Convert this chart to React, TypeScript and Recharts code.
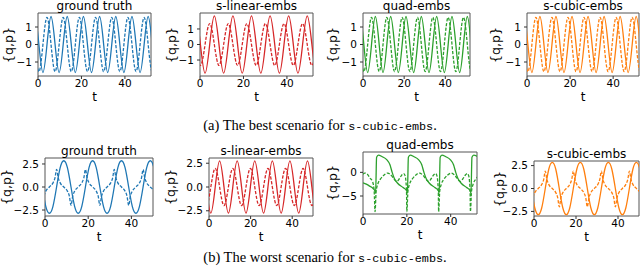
import React from 'react';
import { LineChart, Line, XAxis, YAxis, ReferenceArea } from 'recharts';

type P = [number, number];

const BLUE = '#1f77b4';
const RED = '#d62728';
const GREEN = '#2ca02c';
const ORANGE = '#ff7f0e';

const tTicks = [0, 20, 40];
const unitTicks = [-1, 0, 1];
const halfTicks = [-2.5, 0, 2.5];
const quadWorstTicks = [-5, 0];

const titles = ['ground truth', 's-linear-embs', 'quad-embs', 's-cubic-embs'];

// ---- (a) best scenario ----
const bestTruthQ: P[] = [[-3.31,0],[-1.45,1.6],[0.41,0],[2.27,-1.6],[4.14,0],[6.0,1.6],[7.86,0],[9.73,-1.6],[11.59,0],[13.45,1.6],[15.31,0],[17.18,-1.6],[19.04,0],[20.9,1.6],[22.76,0],[24.63,-1.6],[26.49,0],[28.35,1.6],[30.21,0],[32.08,-1.6],[33.94,0],[35.8,1.6],[37.66,0],[39.53,-1.6],[41.39,0],[43.25,1.6],[45.11,0],[46.98,-1.6],[48.84,0],[50.7,1.6],[52.56,0]];
const bestTruthP: P[] = [[-1.45,0],[0.41,-1.55],[2.27,0],[4.14,1.55],[6.0,0],[7.86,-1.55],[9.73,0],[11.59,1.55],[13.45,0],[15.31,-1.55],[17.18,0],[19.04,1.55],[20.9,0],[22.76,-1.55],[24.63,0],[26.49,1.55],[28.35,0],[30.21,-1.55],[32.08,0],[33.94,1.55],[35.8,0],[37.66,-1.55],[39.53,0],[41.39,1.55],[43.25,0],[45.11,-1.55],[46.98,0],[48.84,1.55],[50.7,0],[52.56,-1.55],[54.43,0]];
const bestLinearQ: P[] = [[-4.09,0],[-1.95,1.85],[0.19,0],[2.33,-1.85],[4.46,0],[6.6,1.85],[8.74,0],[10.88,-1.85],[13.01,0],[15.15,1.85],[17.29,0],[19.43,-1.85],[21.56,0],[23.7,1.85],[25.84,0],[27.98,-1.85],[30.11,0],[32.25,1.85],[34.39,0],[36.53,-1.85],[38.66,0],[40.8,1.85],[42.94,0],[45.08,-1.85],[47.21,0],[49.35,1.85],[51.49,0],[53.63,-1.85],[55.76,0]];
const bestLinearP: P[] = [[-1.95,0],[0.19,-1.35],[2.33,0],[4.46,1.35],[6.6,0],[8.74,-1.35],[10.88,0],[13.01,1.35],[15.15,0],[17.29,-1.35],[19.43,0],[21.56,1.35],[23.7,0],[25.84,-1.35],[27.98,0],[30.11,1.35],[32.25,0],[34.39,-1.35],[36.53,0],[38.66,1.35],[40.8,0],[42.94,-1.35],[45.08,0],[47.21,1.35],[49.35,0],[51.49,-1.35],[53.63,0]];

// ---- (b) worst scenario ----
const worstTruthQ: P[] = [[-1.31,0],[0.36,-2.1],[2.03,-2.85],[3.69,-2.1],[5.36,0],[7.03,2.1],[8.7,2.85],[10.37,2.1],[12.04,0],[13.71,-2.1],[15.38,-2.85],[17.04,-2.1],[18.71,0],[20.38,2.1],[22.05,2.85],[23.72,2.1],[25.39,0],[27.06,-2.1],[28.73,-2.85],[30.39,-2.1],[32.06,0],[33.73,2.1],[35.4,2.85],[37.07,2.1],[38.74,0],[40.41,-2.1],[42.08,-2.85],[43.74,-2.1],[45.41,0],[47.08,2.1],[48.75,2.85],[50.42,2.1],[52.09,0]];
const worstTruthP: P[] = [[-1.31,-2.0],[-0.52,-1.0],[0.38,-0.45],[2.03,0],[3.7,0.45],[4.63,1.0],[5.37,1.9],[6.13,1.0],[7.03,0.45],[8.71,0],[10.37,-0.45],[11.28,-1.0],[12.04,-2.0],[12.83,-1.0],[13.73,-0.45],[15.38,0],[17.05,0.45],[17.98,1.0],[18.72,1.9],[19.48,1.0],[20.38,0.45],[22.06,0],[23.72,-0.45],[24.63,-1.0],[25.39,-2.0],[26.18,-1.0],[27.08,-0.45],[28.73,0],[30.4,0.45],[31.33,1.0],[32.07,1.9],[32.83,1.0],[33.73,0.45],[35.41,0],[37.07,-0.45],[37.98,-1.0],[38.74,-2.0],[39.53,-1.0],[40.43,-0.45],[42.08,0],[43.75,0.45],[44.68,1.0],[45.42,1.9],[46.18,1.0],[47.08,0.45],[48.76,0],[50.42,-0.45],[51.33,-1.0]];
const worstLinearQ: P[] = [[-1.24,0],[0.88,-2.75],[2.99,0],[5.1,2.75],[7.21,0],[9.33,-2.75],[11.44,0],[13.55,2.75],[15.66,0],[17.78,-2.75],[19.89,0],[22.0,2.75],[24.11,0],[26.23,-2.75],[28.34,0],[30.45,2.75],[32.56,0],[34.68,-2.75],[36.79,0],[38.9,2.75],[41.01,0],[43.13,-2.75],[45.24,0],[47.35,2.75],[49.46,0],[51.58,-2.75],[53.69,0]];
const worstLinearP: P[] = [[-3.35,0],[-1.24,-1.95],[0.88,0],[2.99,1.95],[5.1,0],[7.21,-1.95],[9.33,0],[11.44,1.95],[13.55,0],[15.66,-1.95],[17.78,0],[19.89,1.95],[22.0,0],[24.11,-1.95],[26.23,0],[28.34,1.95],[30.45,0],[32.56,-1.95],[34.68,0],[36.79,1.95],[38.9,0],[41.01,-1.95],[43.13,0],[45.24,1.95],[47.35,0],[49.46,-1.95],[51.58,0]];
const worstQuadQ: P[] = [[0,-2.2],[1.5,-2.5],[3.0,-2.9],[4.6,-3.4],[5.4,-3.9],[5.75,-4.4],[6.2,3.2],[7.0,3.65],[8.8,3.3],[10.8,2.7],[12.3,1.6],[13.3,0.0],[14.3,-1.3],[15.8,-2.3],[18.3,-3.2],[19.9,-3.9],[20.25,-4.4],[20.7,3.2],[21.5,3.65],[23.3,3.3],[25.3,2.7],[26.8,1.6],[27.8,0.0],[28.8,-1.3],[30.3,-2.3],[32.8,-3.2],[34.4,-3.9],[34.75,-4.4],[35.2,3.2],[36.0,3.65],[37.8,3.3],[39.8,2.7],[41.3,1.6],[42.3,0.0],[43.3,-1.3],[44.8,-2.3],[47.3,-3.2],[48.9,-3.9],[49.25,-4.4],[49.7,3.2],[50.5,3.65],[52.3,3.3]];
const worstQuadP: P[] = [[0,-0.4],[0.8,-0.15],[2.0,-0.4],[3.2,-1.2],[4.4,-2.0],[5.1,-4.0],[5.5,-8.3],[6.0,-4.0],[6.8,-2.4],[8.0,-1.4],[9.5,-0.6],[11.3,-0.15],[13.0,-0.7],[14.5,-1.6],[15.5,-1.9],[16.5,-1.4],[17.8,-0.5],[18.6,-0.25],[19.2,-0.7],[19.6,-2.0],[19.85,-4.0],[20.0,-8.3],[20.5,-4.0],[21.3,-2.4],[22.5,-1.4],[24.0,-0.6],[25.8,-0.15],[27.5,-0.7],[29.0,-1.6],[30.0,-1.9],[31.0,-1.4],[32.3,-0.5],[33.1,-0.25],[33.7,-0.7],[34.1,-2.0],[34.35,-4.0],[34.5,-8.3],[35.0,-4.0],[35.8,-2.4],[37.0,-1.4],[38.5,-0.6],[40.3,-0.15],[42.0,-0.7],[43.5,-1.6],[44.5,-1.9],[45.5,-1.4],[46.8,-0.5],[47.6,-0.25],[48.2,-0.7],[48.6,-2.0],[48.85,-4.0],[49.0,-8.3],[49.5,-4.0],[50.3,-2.4],[51.5,-1.4],[53.0,-0.6]];

const toPts = (a: P[]) => a.map(([t, v]) => ({ t, v }));

type Box = { x: number; y: number; w: number; h: number };
type Cfg = {
  title: string; color: string; q: P[]; p: P[]; box: Box; xMax: number;
  yDom: [number, number]; yTicks: number[]; dec: number; ylx: number;
  qCurve: 'natural' | 'monotone'; pCurve: 'natural' | 'monotone';
};

const panels: Cfg[] = [
  { title: titles[0], color: BLUE, q: bestTruthQ, p: bestTruthP, box: { x: 38, y: 13, w: 113, h: 63 }, xMax: 52, yDom: [-1.8, 1.8], yTicks: unitTicks, dec: 0, ylx: 9, qCurve: 'natural', pCurve: 'natural' },
  { title: titles[1], color: RED, q: bestLinearQ, p: bestLinearP, box: { x: 200, y: 13, w: 113, h: 63 }, xMax: 52, yDom: [-2.03, 2.03], yTicks: unitTicks, dec: 0, ylx: 171.5, qCurve: 'natural', pCurve: 'natural' },
  { title: titles[2], color: GREEN, q: bestTruthQ, p: bestTruthP, box: { x: 363, y: 13, w: 107, h: 63 }, xMax: 52, yDom: [-1.8, 1.8], yTicks: unitTicks, dec: 0, ylx: 332.5, qCurve: 'natural', pCurve: 'natural' },
  { title: titles[3], color: ORANGE, q: bestTruthQ, p: bestTruthP, box: { x: 527, y: 13, w: 112, h: 63 }, xMax: 52, yDom: [-1.8, 1.8], yTicks: unitTicks, dec: 0, ylx: 496, qCurve: 'natural', pCurve: 'natural' },
  { title: titles[0], color: BLUE, q: worstTruthQ, p: worstTruthP, box: { x: 45, y: 158, w: 108, h: 58 }, xMax: 50, yDom: [-3.15, 3.15], yTicks: halfTicks, dec: 1, ylx: 7, qCurve: 'natural', pCurve: 'monotone' },
  { title: titles[1], color: RED, q: worstLinearQ, p: worstLinearP, box: { x: 209, y: 158, w: 104, h: 58 }, xMax: 50, yDom: [-3.05, 3.05], yTicks: halfTicks, dec: 1, ylx: 171, qCurve: 'natural', pCurve: 'natural' },
  { title: titles[2], color: GREEN, q: worstQuadQ, p: worstQuadP, box: { x: 363, y: 152, w: 114, h: 62 }, xMax: 52, yDom: [-8.8, 4.3], yTicks: quadWorstTicks, dec: 0, ylx: 332.5, qCurve: 'monotone', pCurve: 'monotone' },
  { title: titles[3], color: ORANGE, q: worstTruthQ, p: worstTruthP, box: { x: 534, y: 161, w: 105, h: 55 }, xMax: 50, yDom: [-3.0, 3.0], yTicks: halfTicks, dec: 1, ylx: 500, qCurve: 'natural', pCurve: 'monotone' },
];

const FONT = '"DejaVu Sans", sans-serif';
const fmt = (dec: number) => (v: number) => (v < 0 ? '\u2212' : '') + Math.abs(v).toFixed(dec);

function Panel({ cfg }: { cfg: Cfg }) {
  const { box } = cfg;
  const L = 44, T = 20, R = 2, B = 30;
  return (
    <>
      <div style={{ position: 'absolute', left: box.x - L, top: box.y - T }}>
        <LineChart width={L + box.w + R} height={T + box.h + B} margin={{ top: T, right: R, bottom: 0, left: 0 }}>
          <XAxis dataKey="t" type="number" domain={[0, cfg.xMax]} allowDataOverflow ticks={tTicks} interval={0}
            height={B} tickSize={3} tickMargin={1} axisLine={false} tickLine={{ stroke: '#333' }}
            tick={{ fontSize: 10.5, fill: '#000', fontFamily: FONT }} />
          <YAxis type="number" domain={cfg.yDom} allowDataOverflow ticks={cfg.yTicks} interval={0}
            width={L} tickSize={3} tickMargin={3} axisLine={false} tickLine={{ stroke: '#333' }}
            tickFormatter={fmt(cfg.dec)} tick={{ fontSize: 10.5, fill: '#000', fontFamily: FONT }} />
          <ReferenceArea x1={0} x2={cfg.xMax} y1={cfg.yDom[0]} y2={cfg.yDom[1]} fill="none" fillOpacity={0}
            stroke="#555" strokeWidth={1} ifOverflow="visible" />
          <Line data={toPts(cfg.p)} dataKey="v" type={cfg.pCurve} stroke={cfg.color} strokeWidth={1.3}
            strokeDasharray="3.2 1.6" dot={false} activeDot={false} isAnimationActive={false} />
          <Line data={toPts(cfg.q)} dataKey="v" type={cfg.qCurve} stroke={cfg.color} strokeWidth={1.3}
            dot={false} activeDot={false} isAnimationActive={false} />
        </LineChart>
      </div>
      <div style={{ position: 'absolute', left: box.x + box.w / 2, top: Math.max(0, box.y - 13.5), transform: 'translateX(-50%)',
        fontFamily: FONT, fontSize: 12, lineHeight: '13px', whiteSpace: 'nowrap', color: '#000' }}>{cfg.title}</div>
      <div style={{ position: 'absolute', left: box.x + box.w / 2, top: box.y + box.h + 21, transform: 'translate(-50%, -50%)',
        fontFamily: FONT, fontSize: 12, lineHeight: '14px', color: '#000' }}>t</div>
      <div style={{ position: 'absolute', left: cfg.ylx, top: box.y + box.h / 2, transform: 'translate(-50%, -50%) rotate(-90deg)',
        fontFamily: FONT, fontSize: 12.5, lineHeight: '14px', whiteSpace: 'nowrap', color: '#000' }}>{'{q,p}'}</div>
    </>
  );
}

const SERIF = '"Liberation Serif", "Times New Roman", serif';
const MONO = '"Liberation Mono", "DejaVu Sans Mono", monospace';

function Caption({ label, word, cx, cy }: { label: string; word: string; cx: number; cy: number }) {
  return (
    <div style={{ position: 'absolute', left: cx, top: cy, transform: 'translate(-50%, -50%)', whiteSpace: 'nowrap',
      fontFamily: SERIF, fontSize: 14.5, lineHeight: '16px', color: '#000' }}>
      {label} The {word} scenario for <span style={{ fontFamily: MONO, fontSize: 11.8 }}>s-cubic-embs</span>.
    </div>
  );
}

export default function App() {
  return (
    <div style={{ position: 'absolute', left: 0, top: 0, width: 640, height: 271, background: '#fff', overflow: 'hidden' }}>
      {panels.map((c, i) => <Panel key={i} cfg={c} />)}
      <Caption label="(a)" word="best" cx={320} cy={126} />
      <Caption label="(b)" word="worst" cx={325} cy={258} />
    </div>
  );
}
